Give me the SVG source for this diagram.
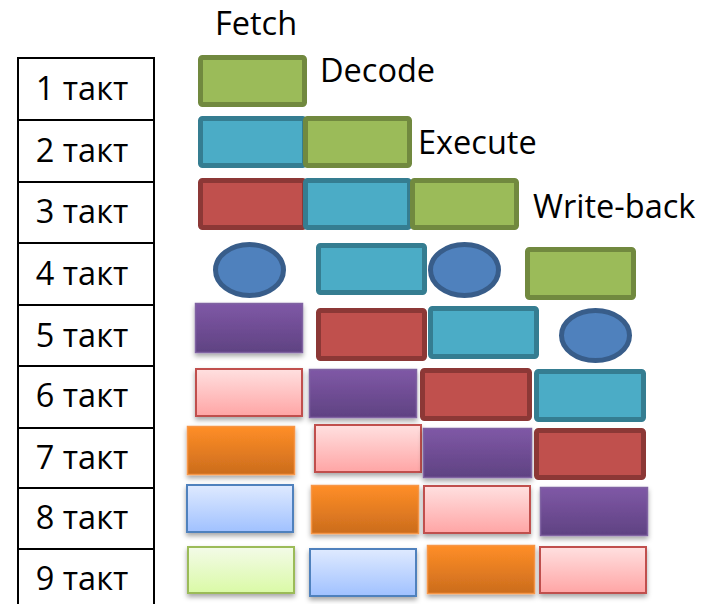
<svg xmlns="http://www.w3.org/2000/svg" width="712" height="604" viewBox="0 0 712 604">
<defs>
<linearGradient id="gPurple" x1="0" y1="0" x2="0" y2="1"><stop offset="0" stop-color="#7F58A6"/><stop offset="1" stop-color="#5F4282"/></linearGradient>
<linearGradient id="gPink" x1="0" y1="0" x2="0" y2="1"><stop offset="0" stop-color="#FFE0E0"/><stop offset="1" stop-color="#FFA5A5"/></linearGradient>
<linearGradient id="gOrange" x1="0" y1="0" x2="0" y2="1"><stop offset="0" stop-color="#FF8E27"/><stop offset="1" stop-color="#CB6C1D"/></linearGradient>
<linearGradient id="gLBlue" x1="0" y1="0" x2="0" y2="1"><stop offset="0" stop-color="#DFEAFF"/><stop offset="1" stop-color="#A0C1FF"/></linearGradient>
<linearGradient id="gLGreen" x1="0" y1="0" x2="0" y2="1"><stop offset="0" stop-color="#F3FBE8"/><stop offset="1" stop-color="#DAFAA6"/></linearGradient>
<filter id="sh" x="-10%" y="-10%" width="120%" height="140%"><feDropShadow dx="0" dy="3" stdDeviation="2.5" flood-color="#000" flood-opacity="0.35"/></filter>
</defs>
<style>
text{font-family:"Open Sans","Liberation Sans",sans-serif;font-size:32.5px;fill:#000}
.cell{fill:#fff;stroke:#000;stroke-width:2}
.lbl{text-anchor:middle}
.green{fill:#9BBB59;stroke:#71893F;stroke-width:5}
.teal{fill:#4BACC6;stroke:#357D91;stroke-width:5}
.red{fill:#C0504D;stroke:#8C3836;stroke-width:5}
.oval{fill:#4F81BD;stroke:#385D8A;stroke-width:5}
.purple{fill:url(#gPurple);stroke:#8064A2;stroke-width:1.5;filter:url(#sh)}
.pink{fill:url(#gPink);stroke:#C0504D;stroke-width:2;filter:url(#sh)}
.orange{fill:url(#gOrange);stroke:#F79646;stroke-width:1.5;filter:url(#sh)}
.lblue{fill:url(#gLBlue);stroke:#4F81BD;stroke-width:2;filter:url(#sh)}
.lgreen{fill:url(#gLGreen);stroke:#9BBB59;stroke-width:2;filter:url(#sh)}
</style>
<rect width="712" height="604" fill="#fff"/>

<g id="table">
<rect class="cell" x="18" y="58" width="136" height="62"/>
<rect class="cell" x="18" y="120" width="136" height="62"/>
<rect class="cell" x="18" y="182" width="136" height="61"/>
<rect class="cell" x="18" y="243" width="136" height="62"/>
<rect class="cell" x="18" y="305" width="136" height="61"/>
<rect class="cell" x="18" y="366" width="136" height="62"/>
<rect class="cell" x="18" y="428" width="136" height="60"/>
<rect class="cell" x="18" y="488" width="136" height="61"/>
<rect class="cell" x="18" y="549" width="136" height="62"/>
<text class="lbl" x="82" y="100">1 такт</text>
<text class="lbl" x="82" y="162">2 такт</text>
<text class="lbl" x="82" y="223">3 такт</text>
<text class="lbl" x="82" y="285">4 такт</text>
<text class="lbl" x="82" y="347">5 такт</text>
<text class="lbl" x="82" y="407">6 такт</text>
<text class="lbl" x="82" y="469">7 такт</text>
<text class="lbl" x="82" y="529">8 такт</text>
<text class="lbl" x="82" y="590">9 такт</text>
</g>

<g id="stage-labels">
<text x="215" y="35">Fetch</text>
<text x="320" y="82">Decode</text>
<text x="418" y="154">Execute</text>
<text x="533" y="218">Write-back</text>
</g>

<g id="row1">
<rect class="green" x="200.5" y="57.5" width="104" height="47" rx="2"/>
</g>
<g id="row2">
<rect class="teal" x="200.5" y="118.5" width="104" height="47" rx="2"/>
<rect class="green" x="305.5" y="118.5" width="104" height="47" rx="2"/>
</g>
<g id="row3">
<rect class="red" x="200.5" y="180.5" width="104" height="47" rx="2"/>
<rect class="teal" x="305.5" y="180.5" width="104" height="47" rx="2"/>
<rect class="green" x="412.5" y="180.5" width="104" height="47" rx="2"/>
</g>
<g id="row4">
<ellipse class="oval" cx="249.5" cy="270" rx="34" ry="25.5"/>
<rect class="teal" x="318.5" y="245.5" width="106" height="47" rx="2"/>
<ellipse class="oval" cx="464.5" cy="270" rx="34" ry="25.5"/>
<rect class="green" x="527.5" y="249.5" width="106" height="48" rx="2"/>
</g>
<g id="row5">
<rect class="purple" x="195.5" y="303.5" width="107" height="49"/>
<rect class="red" x="318.5" y="310.5" width="106" height="48" rx="2"/>
<rect class="teal" x="430.5" y="308.5" width="106" height="48" rx="2"/>
<ellipse class="oval" cx="595.5" cy="335.5" rx="34" ry="25"/>
</g>
<g id="row6">
<rect class="pink" x="196" y="369" width="106" height="47"/>
<rect class="purple" x="309.5" y="369.5" width="107" height="48"/>
<rect class="red" x="422.5" y="370.5" width="107" height="48" rx="2"/>
<rect class="teal" x="536.5" y="371.5" width="107" height="48" rx="2"/>
</g>
<g id="row7">
<rect class="orange" x="187.5" y="426.5" width="107" height="48"/>
<rect class="pink" x="315" y="425" width="106" height="47"/>
<rect class="purple" x="423.5" y="428.5" width="108" height="49"/>
<rect class="red" x="536.5" y="430.5" width="107" height="47" rx="2"/>
</g>
<g id="row8">
<rect class="lblue" x="187" y="485" width="106" height="47"/>
<rect class="orange" x="311.5" y="485.5" width="107" height="48"/>
<rect class="pink" x="424" y="486" width="106" height="47"/>
<rect class="purple" x="540.5" y="487.5" width="107" height="48"/>
</g>
<g id="row9">
<rect class="lgreen" x="188" y="547" width="106" height="46"/>
<rect class="lblue" x="310" y="549" width="106" height="47"/>
<rect class="orange" x="427.5" y="545.5" width="107" height="48"/>
<rect class="pink" x="540" y="547" width="106" height="46"/>
</g>

<g id="connectors"/>
</svg>
